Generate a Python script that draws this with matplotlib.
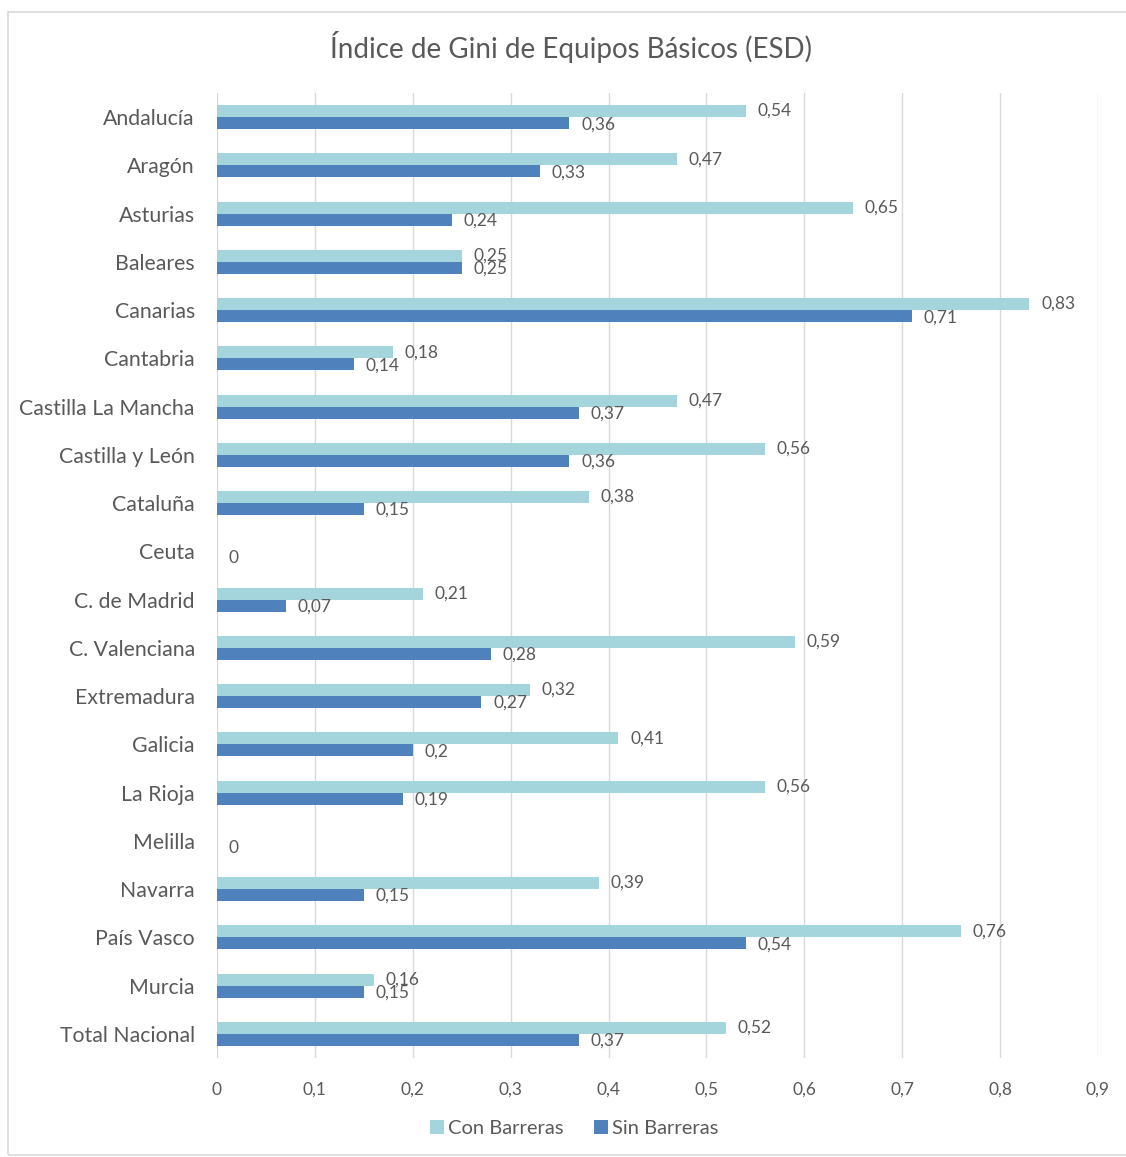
import matplotlib
matplotlib.use('Agg')
import matplotlib.pyplot as plt
import matplotlib.patches as mpatches
import numpy as np

plt.rcParams['font.family'] = ['Lato', 'DejaVu Sans']

regiones = ['Andalucía', 'Aragón', 'Asturias', 'Baleares', 'Canarias', 'Cantabria',
            'Castilla La Mancha', 'Castilla y León', 'Cataluña', 'Ceuta',
            'C. de Madrid', 'C. Valenciana', 'Extremadura', 'Galicia', 'La Rioja',
            'Melilla', 'Navarra', 'País Vasco', 'Murcia', 'Total Nacional']
con_barreras = [0.54, 0.47, 0.65, 0.25, 0.83, 0.18, 0.47, 0.56, 0.38, 0,
                0.21, 0.59, 0.32, 0.41, 0.56, 0, 0.39, 0.76, 0.16, 0.52]
sin_barreras = [0.36, 0.33, 0.24, 0.25, 0.71, 0.14, 0.37, 0.36, 0.15, 0,
                0.07, 0.28, 0.27, 0.2, 0.19, 0, 0.15, 0.54, 0.15, 0.37]
xticks = [0, 0.1, 0.2, 0.3, 0.4, 0.5, 0.6, 0.7, 0.8, 0.9]

c_light = '#A5D5DC'
c_dark = '#4F81BD'
gris = '#595959'

def fmt(v):
    if v == 0:
        return '0'
    return ('%g' % v).replace('.', ',')

fig = plt.figure(figsize=(11.26, 11.57), dpi=100)
ax = fig.add_axes([0.1927, 0.0856, 0.7824, 0.834])

y = np.arange(len(regiones))
h = 0.25
ax.barh(y - h/2, con_barreras, height=h, color=c_light, label='Con Barreras', zorder=3)
ax.barh(y + h/2, sin_barreras, height=h, color=c_dark, label='Sin Barreras', zorder=3)

for i, (a, b) in enumerate(zip(con_barreras, sin_barreras)):
    if a != 0:
        ax.text(a + 0.012, i - h/2, fmt(a), ha='left', va='center', fontsize=12.5, color=gris)
    ax.text(b + 0.012, i + h/2 + 0.02, fmt(b), ha='left', va='center', fontsize=12.5, color=gris)

ax.set_xlim(0, 0.9)
ax.set_ylim(len(regiones) - 0.5, -0.5)
ax.set_xticks(xticks)
ax.set_xticklabels([fmt(v) for v in xticks], fontsize=12.5, color=gris)
ax.set_yticks(y)
ax.set_yticklabels(regiones, fontsize=15.3, color=gris)
ax.tick_params(axis='both', length=0)
ax.tick_params(axis='x', pad=17)
ax.tick_params(axis='y', pad=16)
ax.grid(axis='x', color='#D9D9D9', lw=1.0, zorder=0)
for s in ax.spines.values():
    s.set_visible(False)

fig.text(0.507, 0.959, 'Índice de Gini de Equipos Básicos (ESD)', ha='center', va='center',
         fontsize=20, color=gris)

leg = fig.legend(loc='center', bbox_to_anchor=(0.51, 0.025), ncol=2, frameon=False,
                 fontsize=14.5, handlelength=0.7, handleheight=0.7, handletextpad=0.2,
                 columnspacing=1.5, labelcolor=gris)

# borde del gráfico
fig.patches.append(mpatches.Rectangle((8/1126, 0.002), 1 - 8/1126 + 0.01, 1 - 12/1157 - 0.002,
                                      transform=fig.transFigure, fill=False,
                                      edgecolor='#D9D9D9', lw=1.2))

plt.savefig('out.png', dpi=100, facecolor='white')
plt.close()
print('Done')
